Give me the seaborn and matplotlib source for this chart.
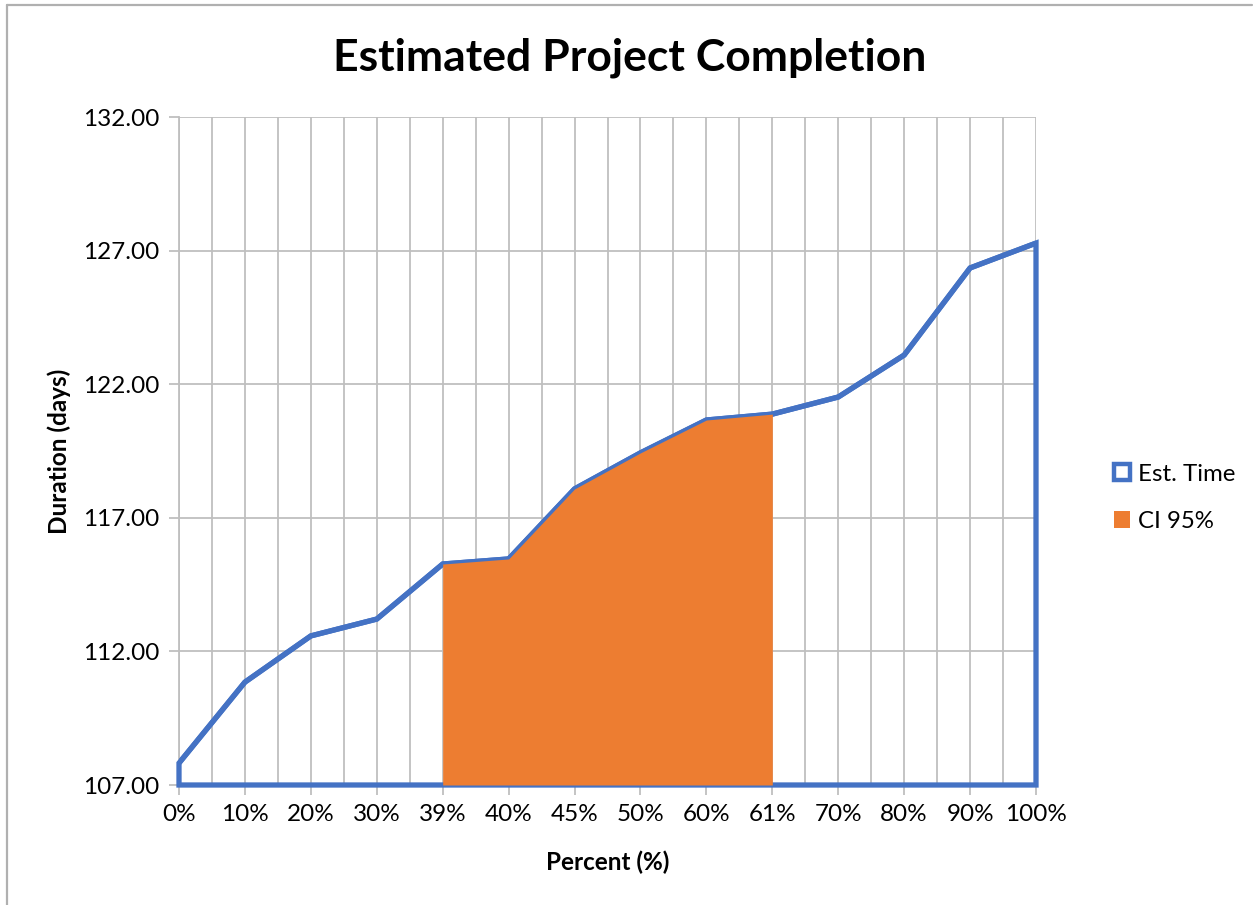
import matplotlib
matplotlib.use("Agg")
import matplotlib.pyplot as plt
from matplotlib.patches import Patch
from matplotlib.lines import Line2D
import numpy as np
import pandas as pd
import seaborn as sns

# Completion percentiles and the estimated duration (days) at each
percent_labels = ["0%", "10%", "20%", "30%", "39%", "40%", "45%", "50%",
                  "60%", "61%", "70%", "80%", "90%", "100%"]
est_time = [107.82, 110.85, 112.58, 113.21, 115.27, 115.46, 118.08, 119.43,
            120.66, 120.88, 121.52, 123.09, 126.35, 127.28]
# 95% confidence interval spans the 39% .. 61% percentiles
ci_labels = ["39%", "40%", "45%", "50%", "60%", "61%"]

y_min, y_max, y_step = 107, 132, 5

BLUE = "#4472C4"
ORANGE = "#ED7D31"
GRID = "#BFBFBF"

sns.set_theme(style="white")
plt.rcParams["font.family"] = ["Lato", "DejaVu Sans"]
plt.rcParams["text.color"] = "black"
plt.rcParams["axes.labelcolor"] = "black"

df = pd.DataFrame({"label": percent_labels, "days": est_time})
df["pos"] = np.arange(len(df))

fig = plt.figure(figsize=(12.53, 9.05), dpi=100)
ax = fig.add_axes([179 / 1253, 120 / 905, (1036 - 179) / 1253, (785 - 117) / 905])

n = len(df)
ax.set_xlim(0, n - 1)
ax.set_ylim(y_min, y_max)

# major + minor vertical gridlines, horizontal gridlines at majors
ax.set_xticks(df["pos"])
ax.set_xticks(np.arange(0.5, n - 1, 1.0), minor=True)
ax.set_yticks(np.arange(y_min, y_max + 0.1, y_step))
ax.grid(True, which="both", axis="x", color=GRID, lw=1.3, zorder=0)
ax.grid(True, which="major", axis="y", color=GRID, lw=1.3, zorder=0)
ax.set_axisbelow(True)

# Est. Time: outlined area (closed polygon down to the axis floor)
poly_x = np.concatenate([[df["pos"].iloc[0]], df["pos"], [df["pos"].iloc[-1], df["pos"].iloc[0]]])
poly_y = np.concatenate([[y_min], df["days"], [y_min, y_min]])
ax.fill(poly_x, poly_y, facecolor="none", edgecolor=BLUE, lw=3.8,
        joinstyle="miter", clip_on=False, zorder=3)
sns.lineplot(data=df, x="pos", y="days", ax=ax, color=BLUE, lw=3.8,
             zorder=3, legend=False)

# CI 95%: filled area over the confidence band
ci = df[df["label"].isin(ci_labels)]
ax.fill_between(ci["pos"], y_min, ci["days"], color=ORANGE, lw=0, zorder=4)

# axes styling
for side in ["top", "right"]:
    ax.spines[side].set_visible(False)
for side in ["left", "bottom"]:
    ax.spines[side].set_color(GRID)
    ax.spines[side].set_linewidth(1.3)
ax.set_xticklabels(percent_labels, fontsize=17.5)
ax.set_yticklabels([f"{v:.2f}" for v in np.arange(y_min, y_max + 0.1, y_step)], fontsize=17.5)
ax.tick_params(axis="both", which="major", length=7, width=1.3, color=GRID,
               direction="out", pad=7, labelcolor="black")
ax.tick_params(axis="x", which="minor", length=0)
ax.tick_params(left=True, bottom=True)

ax.set_xlabel("Percent (%)", fontsize=17.5, fontweight="bold", labelpad=18)
ax.set_ylabel("Duration (days)", fontsize=17.5, fontweight="bold", labelpad=9)
fig.text(630 / 1253, 1 - 58 / 905, "Estimated Project Completion", fontsize=32,
         fontweight="bold", ha="center", va="center", color="black")

handles = [
    Line2D([], [], marker="s", markersize=12, markerfacecolor="white",
           markeredgecolor=BLUE, markeredgewidth=3.2, linestyle="none"),
    Patch(facecolor=ORANGE, edgecolor="none"),
]
fig.legend(handles, ["Est. Time", "CI 95%"], loc="center left",
           bbox_to_anchor=(1092 / 1253, 1 - 498 / 905), frameon=False,
           fontsize=17.3, handlelength=0.7, handleheight=0.7,
           handletextpad=0.3, labelspacing=1.1)

# chart frame (left and top edges)
fig.add_artist(Line2D([7 / 1253, 7 / 1253], [0, 1 - 5 / 905], color="#B0B0B0", lw=1.6))
fig.add_artist(Line2D([7 / 1253, 1252 / 1253], [1 - 5 / 905, 1 - 5 / 905], color="#B0B0B0", lw=1.6))

fig.savefig("out.png", dpi=100)
